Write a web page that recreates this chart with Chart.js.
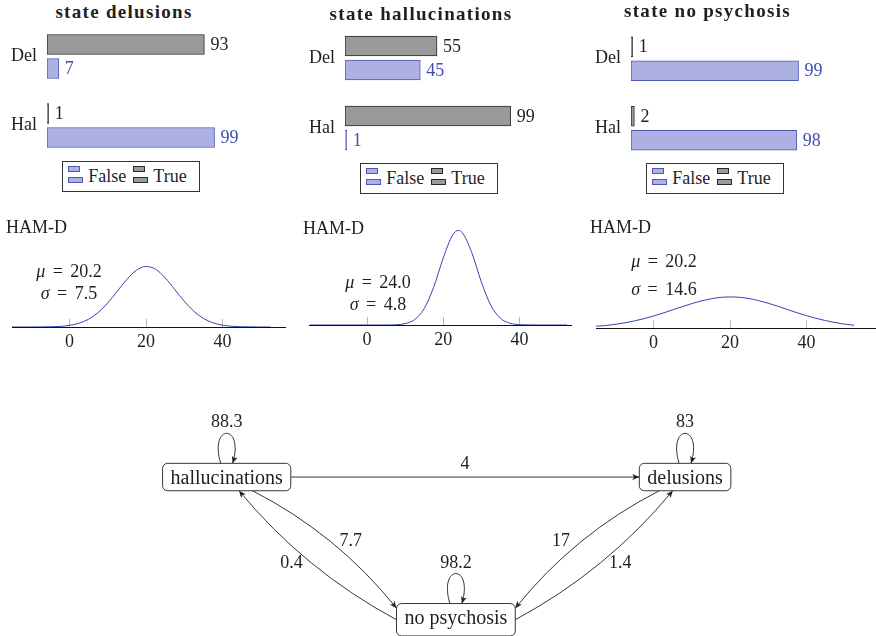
<!DOCTYPE html>
<html>
<head>
<meta charset="utf-8">
<title>HMM states</title>
<script src="https://cdn.jsdelivr.net/npm/chart.js@4.4.1/dist/chart.umd.min.js"></script>
<style>
  body { margin: 0; background: #fff; }
  #fig { position: relative; width: 876px; height: 636px; overflow: hidden; font-family: "Liberation Serif", serif; color: #1f1f1f; }
  #fig canvas { position: absolute; }
  .txt { position: absolute; line-height: 1; white-space: nowrap; font-size: 18px; }
  .txt .eq { margin: 0 3px; }
  .legend { position: absolute; box-sizing: border-box; border: 1px solid #333; background: #fff; }
  .legend span { position: absolute; box-sizing: border-box; height: 6px; border: 1px solid; }
</style>
</head>
<body>
<div id="fig"></div>
<script>
// ---------- data ----------
const barTitles = ['state delusions', 'state hallucinations', 'state no psychosis'];
const symptomLabels = ['Del', 'Hal'];
const seriesNames = ['True', 'False'];
const trueShare = [[93, 1], [55, 99], [1, 2]];
const falseShare = [[7, 99], [45, 1], [99, 98]];

const hamTitle = 'HAM-D';
const hamMu = [20.2, 24.0, 20.2];
const hamSigma = [7.5, 4.8, 14.6];
const hamTicks = [0, 20, 40];
// density, per mille
const hamX = [-15, -12.5, -10, -7.5, -5, -2.5, 0, 2.5, 5, 7.5, 10, 12.5, 15, 17.5, 20, 22.5, 25, 27.5, 30, 32.5, 35, 37.5, 40, 42.5, 45, 47.5, 50, 52.5];
const hamDensityDel = [0, 0, 0, 0.1, 0.2, 0.5, 1.4, 3.3, 6.8, 12.7, 21.1, 31.4, 41.8, 49.9, 53.2, 50.8, 43.3, 33.1, 22.7, 13.9, 7.6, 3.7, 1.6, 0.6, 0.2, 0.1, 0, 0];
const hamXHal = [-15, -10, -5, 0, 5, 7.5, 10, 12.5, 15, 17.5, 20, 22.5, 24, 25, 27.5, 30, 32.5, 35, 37.5, 40, 42.5, 45, 50, 52.5];
const hamDensityHal = [0, 0, 0, 0, 0, 0.2, 1.2, 4.7, 14.3, 33.2, 58.7, 79.2, 83.1, 81.3, 63.7, 38.0, 17.3, 6.0, 1.6, 0.3, 0.1, 0, 0, 0];
const hamDensityNone = [1.5, 2.2, 3.2, 4.5, 6.2, 8.2, 10.5, 13.1, 15.9, 18.7, 21.4, 23.8, 25.6, 26.9, 27.3, 27.0, 25.9, 24.1, 21.8, 19.2, 16.3, 13.5, 10.9, 8.5, 6.5, 4.8, 3.4, 2.4];

const stateNames = ['hallucinations', 'delusions', 'no psychosis'];
const stateCol = [0, 2, 1];
const stateRow = [1, 1, 0];
const stayProb = [88.3, 83, 98.2];
const moveFrom = [0, 0, 2, 1, 2];
const moveTo = [1, 2, 0, 2, 1];
const moveProb = [4, 7.7, 0.4, 17, 1.4];

// ---------- style / layout ----------
const serif = '"Liberation Serif", "Times New Roman", serif';
const ink = '#1f1f1f';
const grayFill = '#9a9a9a', grayLine = '#2a2a2a';
const blueFill = '#adb0e3', blueLine = '#4b58b8', blueText = '#3f4fb0';
const curveBlue = '#3345b0';

const barLayout = [
  { left: 0, top: 22, height: 138, xMax: 130, titleX: 124, titleY: 18, legendX: 62, legendY: 161 },
  { left: 298, top: 23, height: 140, xMax: 131.5, titleX: 421, titleY: 20, legendX: 360, legendY: 163 },
  { left: 584, top: 24, height: 139, xMax: 130, titleX: 707.5, titleY: 17, legendX: 646, legendY: 163 }
];
const hamLayout = [
  { left: 12, top: 217, width: 274, xMin: -15, xMax: 56.6, labelX: 6, labelY: 233, statX: 69, statY: [277, 299.5] },
  { left: 309, top: 215, width: 263, xMin: -15.2, xMax: 53.8, labelX: 303, labelY: 234, statX: 378, statY: [288, 310.5] },
  { left: 596, top: 218, width: 280, xMin: -15, xMax: 58.2, labelX: 590, labelY: 233.5, statX: 664, statY: [266.7, 295] }
];
// ray angles (deg) where each transition leaves / enters its box, bend and label side
const moveOut = [0, 28, 180, 152, 0];
const moveIn = [180, 191, 48, -11, 132];
const moveBend = [0, 20, 20, -20, -20];
const moveLabelSide = [0, 1, -1, -1, 1];

Chart.defaults.font.family = serif;
Chart.defaults.color = ink;

const fig = document.getElementById('fig');

function addCanvas(left, top, w, h) {
  const c = document.createElement('canvas');
  c.width = w; c.height = h;
  c.style.left = left + 'px'; c.style.top = top + 'px';
  c.style.width = w + 'px'; c.style.height = h + 'px';
  fig.appendChild(c);
  return c;
}

function makeText(html, x, base, opt = {}) {
  const d = document.createElement('div');
  const size = opt.size || 18;
  d.className = 'txt';
  d.innerHTML = html;
  d.style.fontSize = size + 'px';
  d.style.left = x + 'px';
  d.style.top = (base - 0.8375 * size) + 'px';
  if (opt.bold) d.style.fontWeight = 'bold';
  if (opt.spacing) d.style.letterSpacing = opt.spacing + 'px';
  if (opt.align === 'center') d.style.transform = 'translateX(-50%)';
  if (opt.align === 'right') d.style.transform = 'translateX(-100%)';
  return d;
}
function addText(html, x, base, opt) {
  const d = makeText(html, x, base, opt);
  fig.appendChild(d);
  return d;
}

function addLegend(x, y) {
  const box = document.createElement('div');
  box.className = 'legend';
  Object.assign(box.style, { left: x + 'px', top: y + 'px', width: '138px', height: '31px' });
  seriesNames.slice().reverse().forEach((name, k) => {
    const ox = k === 0 ? 5.3 : 70.3;
    const fill = name === 'True' ? grayFill : blueFill;
    const line = name === 'True' ? grayLine : blueLine;
    [[3.7, 12], [15.3, 15]].forEach(([ty, w]) => {
      const s = document.createElement('span');
      Object.assign(s.style, { left: ox + 'px', top: ty + 'px', width: w + 'px', background: fill, borderColor: line });
      box.appendChild(s);
    });
    box.appendChild(makeText(name, ox + 20, 19.7));
  });
  fig.appendChild(box);
}

// value labels at the end of each bar
const barValues = {
  id: 'barValues',
  afterDatasetsDraw(chart) {
    const ctx = chart.ctx;
    ctx.save();
    ctx.font = '18px ' + serif;
    ctx.textBaseline = 'middle';
    ctx.textAlign = 'left';
    chart.data.datasets.forEach((ds, di) => {
      chart.getDatasetMeta(di).data.forEach((bar, k) => {
        ctx.fillStyle = ds.valueColor;
        ctx.fillText(String(ds.data[k]), bar.x + 6, bar.y + 1);
      });
    });
    ctx.restore();
  }
};

// short grey tick marks standing on the axis
const hamTickMarks = {
  id: 'hamTickMarks',
  beforeDatasetsDraw(chart) {
    const { ctx, chartArea, scales: { x } } = chart;
    ctx.save();
    ctx.strokeStyle = '#b8b8b8';
    ctx.lineWidth = 1;
    x.ticks.forEach(t => {
      const px = Math.round(x.getPixelForValue(t.value)) + 0.5;
      ctx.beginPath();
      ctx.moveTo(px, chartArea.bottom);
      ctx.lineTo(px, chartArea.bottom - 8);
      ctx.stroke();
    });
    ctx.restore();
  }
};

function arrowHead(ctx, x, y, ang) {
  ctx.save();
  ctx.translate(x, y);
  ctx.rotate(ang);
  ctx.beginPath();
  ctx.moveTo(0, 0);
  ctx.lineTo(-7, -3);
  ctx.lineTo(-5.2, 0);
  ctx.lineTo(-7, 3);
  ctx.closePath();
  ctx.fill();
  ctx.restore();
}

function roundBox(ctx, x, y, w, h, r) {
  ctx.beginPath();
  ctx.moveTo(x + r, y);
  ctx.arcTo(x + w, y, x + w, y + h, r);
  ctx.arcTo(x + w, y + h, x, y + h, r);
  ctx.arcTo(x, y + h, x, y, r);
  ctx.arcTo(x, y, x + w, y, r);
  ctx.closePath();
}

const stateDiagram = {
  id: 'stateDiagram',
  afterDatasetsDraw(chart) {
    const { ctx, scales: { x, y } } = chart;
    ctx.save();
    ctx.font = '20px ' + serif;
    const boxes = stateNames.map((name, i) => {
      const m = ctx.measureText(name);
      const asc = m.actualBoundingBoxAscent, desc = m.actualBoundingBoxDescent;
      return { name, desc, cx: x.getPixelForValue(stateCol[i]), cy: y.getPixelForValue(stateRow[i]),
               hw: m.width / 2 + 8, hh: (asc + desc) / 2 + 6.7 };
    });
    const border = (b, deg) => {
      const a = deg * Math.PI / 180, dx = Math.cos(a), dy = Math.sin(a);
      const tx = Math.abs(dx) > 1e-6 ? b.hw / Math.abs(dx) : Infinity;
      const ty = Math.abs(dy) > 1e-6 ? b.hh / Math.abs(dy) : Infinity;
      const t = Math.min(tx, ty);
      return { x: b.cx + t * dx, y: b.cy + t * dy };
    };
    ctx.strokeStyle = ink;
    ctx.fillStyle = ink;
    ctx.lineWidth = 0.9;

    moveProb.forEach((p, k) => {
      const a = border(boxes[moveFrom[k]], moveOut[k]);
      const b = border(boxes[moveTo[k]], moveIn[k]);
      const len = Math.hypot(b.x - a.x, b.y - a.y);
      const ux = (b.x - a.x) / len, uy = (b.y - a.y) / len;
      const c = { x: (a.x + b.x) / 2 + moveBend[k] * uy, y: (a.y + b.y) / 2 - moveBend[k] * ux };
      ctx.beginPath();
      ctx.moveTo(a.x, a.y);
      ctx.quadraticCurveTo(c.x, c.y, b.x, b.y);
      ctx.stroke();
      arrowHead(ctx, b.x, b.y, Math.atan2(b.y - c.y, b.x - c.x));
      const mx = 0.25 * a.x + 0.5 * c.x + 0.25 * b.x;
      const my = 0.25 * a.y + 0.5 * c.y + 0.25 * b.y;
      ctx.font = '18px ' + serif;
      ctx.textAlign = 'center';
      if (moveLabelSide[k] === 0) {
        ctx.textBaseline = 'alphabetic';
        ctx.fillText(String(p), mx, my - 8);
      } else {
        ctx.textBaseline = 'middle';
        ctx.fillText(String(p), mx + 20 * moveLabelSide[k], my);
      }
    });

    boxes.forEach((b, i) => {
      const top = b.cy - b.hh;
      ctx.beginPath();
      ctx.moveTo(b.cx - 6, top);
      ctx.bezierCurveTo(b.cx - 18, top - 40, b.cx + 18, top - 40, b.cx + 6, top);
      ctx.stroke();
      arrowHead(ctx, b.cx + 6, top, Math.atan2(40, -12));
      ctx.font = '18px ' + serif;
      ctx.textAlign = 'center';
      ctx.textBaseline = 'alphabetic';
      ctx.fillText(String(stayProb[i]), b.cx, top - 36);
    });

    boxes.forEach(b => {
      roundBox(ctx, b.cx - b.hw, b.cy - b.hh, 2 * b.hw, 2 * b.hh, 5);
      ctx.fillStyle = '#fff';
      ctx.fill();
      ctx.stroke();
      ctx.fillStyle = ink;
      ctx.font = '20px ' + serif;
      ctx.textAlign = 'center';
      ctx.textBaseline = 'alphabetic';
      ctx.fillText(b.name, b.cx, b.cy + b.hh - 6.7 - b.desc);
    });
    ctx.restore();
  }
};

// ---------- bar panels ----------
barTitles.forEach((title, i) => {
  const L = barLayout[i];
  const cv = addCanvas(L.left, L.top, 267, L.height);
  new Chart(cv, {
    type: 'bar',
    data: {
      labels: symptomLabels,
      datasets: [
        { label: seriesNames[0], data: trueShare[i], backgroundColor: grayFill, borderColor: grayLine, valueColor: ink,
          borderWidth: 1, borderSkipped: false, barThickness: 24, maxBarThickness: 20 },
        { label: seriesNames[1], data: falseShare[i], backgroundColor: blueFill, borderColor: blueLine, valueColor: blueText,
          borderWidth: 1, borderSkipped: false, barThickness: 24, maxBarThickness: 20 }
      ]
    },
    options: {
      indexAxis: 'y',
      responsive: false,
      animation: false,
      events: [],
      layout: { padding: 0 },
      plugins: { legend: { display: false }, tooltip: { enabled: false } },
      scales: {
        x: { display: false, min: 0, max: L.xMax },
        y: {
          grid: { display: false, drawTicks: false },
          border: { display: false },
          ticks: { padding: 10, color: ink, font: { size: 18 } },
          afterFit: s => { s.width = 47; s.paddingTop = 0; s.paddingBottom = 0; }
        }
      }
    },
    plugins: [barValues]
  });
  addText(title, L.titleX, L.titleY, { align: 'center', size: 19, bold: true, spacing: 1.3 });
  addLegend(L.legendX, L.legendY);
});

// ---------- HAM-D panels ----------
const hamGrid = [hamX, hamXHal, hamX];
const hamSeries = [hamDensityDel, hamDensityHal, hamDensityNone];
hamSeries.forEach((dens, i) => {
  const L = hamLayout[i];
  const cv = addCanvas(L.left, L.top, L.width, 140);
  new Chart(cv, {
    type: 'line',
    data: {
      datasets: [{
        data: hamGrid[i].map((v, k) => ({ x: v, y: dens[k] })),
        borderColor: curveBlue,
        borderWidth: 1,
        pointRadius: 0,
        fill: false,
        cubicInterpolationMode: 'monotone'
      }]
    },
    options: {
      responsive: false,
      animation: false,
      events: [],
      layout: { padding: 0 },
      plugins: { legend: { display: false }, tooltip: { enabled: false } },
      scales: {
        x: {
          type: 'linear',
          min: L.xMin,
          max: L.xMax,
          grid: { display: false, drawTicks: false },
          border: { display: true, color: '#111', width: 1 },
          ticks: { padding: 4, color: ink, font: { size: 18 } },
          afterBuildTicks: s => { s.ticks = hamTicks.map(v => ({ value: v })); },
          afterFit: s => { s.height = 30; }
        },
        y: { display: false, min: 0, max: 96.7 }
      }
    },
    plugins: [hamTickMarks]
  });
  addText(hamTitle, L.labelX, L.labelY);
  addText('<i>μ</i><span class="eq"> = </span>' + hamMu[i].toFixed(1), L.statX, L.statY[0], { align: 'center' });
  addText('<i>σ</i><span class="eq"> = </span>' + hamSigma[i].toFixed(1), L.statX, L.statY[1], { align: 'center' });
});

// ---------- transition diagram ----------
const dcv = addCanvas(0, 380, 876, 256);
new Chart(dcv, {
  type: 'scatter',
  data: {
    datasets: [{ data: stateCol.map((c, i) => ({ x: c, y: stateRow[i] })), pointRadius: 0 }]
  },
  options: {
    responsive: false,
    animation: false,
    events: [],
    layout: { padding: 0 },
    plugins: { legend: { display: false }, tooltip: { enabled: false } },
    scales: {
      x: { display: false, min: -0.989, max: 2.833 },
      y: { display: false, min: -0.114, max: 1.680 }
    }
  },
  plugins: [stateDiagram]
});
</script>
</body>
</html>
